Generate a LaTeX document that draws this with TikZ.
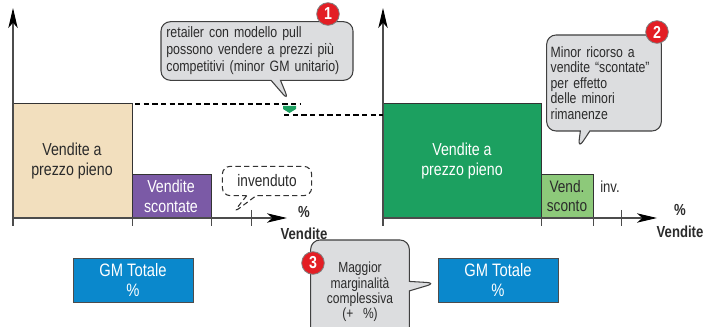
\documentclass[tikz,border=0pt]{standalone}
\usepackage{fontspec}
\setmainfont[FakeStretch=0.82]{Liberation Sans}
\usetikzlibrary{arrows.meta,shapes.callouts}

\definecolor{beige}{HTML}{F2DFBE}
\definecolor{viola}{HTML}{7B5AA6}
\definecolor{verde}{HTML}{1CA060}
\definecolor{verdechiaro}{HTML}{8DC97A}
\definecolor{blu}{HTML}{0A88CC}
\definecolor{grigio}{HTML}{DCDDDF}
\definecolor{rosso}{HTML}{E31E24}
\definecolor{testo}{HTML}{2B2B2B}

\begin{document}
\begin{tikzpicture}[x=0.75pt,y=-0.75pt,
  asse/.style={draw=black!70,line width=0.8pt,-{Stealth[length=15pt,width=7pt,inset=4pt,black]}},
  barra/.style={draw=black!80,line width=0.7pt},
  tacca/.style={draw=black!70,line width=0.7pt},
  nuvola/.style={rectangle callout,rounded corners=7pt,fill=grigio,draw=black!75,line width=0.8pt,text=testo,font=\fontsize{11.3}{12.7}\selectfont},
  bollino/.style={circle,fill=rosso,draw=black!50,line width=0.6pt,text=white,font=\bfseries\fontsize{13}{13}\selectfont,inner sep=0pt,minimum size=17pt},
  gm/.style={rectangle,fill=blu,draw=black!70,line width=0.7pt,text=white,minimum width=90pt,minimum height=33pt,align=center,font=\fontsize{13.5}{15}\selectfont},
  tratteggio/.style={dashed,dash pattern=on 4pt off 2.5pt,line width=0.8pt},
  etichetta/.style={align=center,font=\fontsize{13}{15}\selectfont}
]
\clip (0,0) rectangle (706,327);

% grafico di sinistra
\fill[beige] (13,103) rectangle (132,218);
\draw[barra] (13,218) -- (13,103) -- (132,103) -- (132,218);
\fill[viola] (132,174) rectangle (211,218);
\draw[barra] (132,174) rectangle (211,218);
\draw[asse] (13,226) -- (13,8);
\draw[asse] (13,218) -- (287,218);
\draw[tacca] (13,218) -- (13,226);
\draw[tacca] (132,218) -- (132,226);
\draw[tacca] (211,218) -- (211,226);
\draw[tacca] (251,210) -- (251,226);
\node[etichetta,text=testo] (pienoA) at (72,161) {Vendite a\\prezzo pieno};
\node[etichetta,text=white] (scontate) at (171,196) {Vendite\\scontate};
\node[font=\bfseries\fontsize{12}{16}\selectfont,align=center,text=testo] (asseA) at (304,223) {\%\\Vendite};

% grafico di destra
\fill[verde] (383,103) rectangle (541,218);
\draw[barra] (383,218) -- (383,103) -- (541,103) -- (541,218);
\fill[verdechiaro] (541,174) rectangle (593,218);
\draw[barra] (541,174) rectangle (593,218);
\draw[asse] (383,226) -- (383,8);
\draw[asse] (383,218) -- (657,218);
\draw[tacca] (383,218) -- (383,226);
\draw[tacca] (541,218) -- (541,226);
\draw[tacca] (593,218) -- (593,226);
\draw[tacca] (621,210) -- (621,226);
\node[etichetta,text=white] (pienoB) at (462,161) {Vendite a\\prezzo pieno};
\node[etichetta,text=testo,font=\fontsize{12.5}{14}\selectfont] (sconto) at (567,196) {Vend.\\sconto};
\node[text=testo,font=\fontsize{12}{13}\selectfont] (inv) at (610,187) {inv.};
\node[font=\bfseries\fontsize{12}{16}\selectfont,align=center,text=testo] (asseB) at (680,221) {\%\\Vendite};

% livelli di prezzo
\draw[tratteggio] (135,104) -- (300,104);
\draw[tratteggio] (284,115) -- (383,115);
\fill[verde] (283,106) -- (296,106) -- (296,109) -- (289.5,113) -- (283,109) -- cycle;

% riquadri GM
\node[gm] (gmA) at (133,280) {GM Totale\\\%};
\node[gm] (gmB) at (498,280) {GM Totale\\\%};

% fumetti
\coordinate (punta1) at (289,101);
\coordinate (punta2) at (578,149);
\coordinate (punta3) at (436,283);
\coordinate (puntaInv) at (233,213);
\node[nuvola,text width=136pt,align=left,inner sep=4pt,callout absolute pointer={(punta1)}] (nota1) at (257,51)
  {retailer con modello pull\\possono vendere a prezzi più\\competitivi (minor GM unitario)};
\node[nuvola,text width=80pt,align=left,inner sep=3pt,minimum height=72pt,font=\fontsize{11.2}{11.7}\selectfont,callout absolute pointer={(punta2)}] (nota2) at (604,83)
  {Minor ricorso a\\vendite “scontate”\\per effetto\\delle minori\\rimanenze};
\node[nuvola,text width=66pt,align=center,inner sep=4pt,minimum height=78pt,font=\fontsize{11}{11.4}\selectfont,callout absolute pointer={(punta3)}] (nota3) at (360,292)
  {Maggior\\marginalità\\complessiva\\(+~~\%)\\[10pt]};
\node[rectangle callout,rounded corners=6pt,draw=black!80,fill=white,tratteggio,minimum width=67pt,minimum height=22pt,text=testo,font=\fontsize{12.5}{13}\selectfont,callout absolute pointer={(puntaInv)}] (notaInv) at (267,181) {invenduto};

% bollini numerati
\node[bollino] (b1) at (328,14) {1};
\node[bollino] (b2) at (657,32) {2};
\node[bollino] (b3) at (313,263) {3};
\end{tikzpicture}
\end{document}
